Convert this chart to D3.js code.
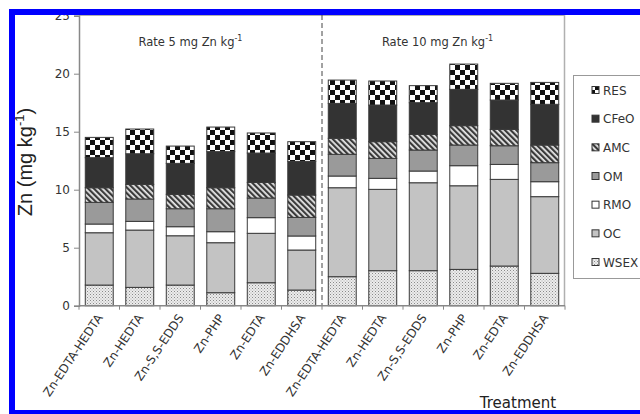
<!DOCTYPE html>
<html><head><meta charset="utf-8">
<script src="https://cdn.jsdelivr.net/npm/d3@7"></script>
<style>
html,body{margin:0;padding:0;background:#fff;}
svg{display:block;}
</style></head>
<body>
<svg id="chart" width="640" height="414"></svg>
<script>
// ---- data ----
const treatments = ["Zn-EDTA-HEDTA","Zn-HEDTA","Zn-S,S-EDDS","Zn-PHP","Zn-EDTA","Zn-EDDHSA",
                    "Zn-EDTA-HEDTA","Zn-HEDTA","Zn-S,S-EDDS","Zn-PHP","Zn-EDTA","Zn-EDDHSA"];
const rateLabels = ["Rate 5 mg Zn kg", "Rate 10 mg Zn kg"];
const fractions = ["WSEX","OC","RMO","OM","AMC","CFeO","RES"];
const WSEX = [1.78,1.58,1.78,1.12,1.98,1.35, 2.50,3.02,3.02,3.13,3.42,2.79];
const OC   = [4.51,4.94,4.25,4.31,4.26,3.45, 7.67,7.01,7.58,7.21,7.47,6.61];
const RMO  = [0.75,0.75,0.78,0.95,1.35,1.21, 1.01,0.95,1.01,1.73,1.29,1.29];
const OM   = [1.87,1.93,1.55,1.98,1.69,1.60, 1.87,1.72,1.81,1.78,1.61,1.64];
const AMC  = [1.26,1.26,1.24,1.81,1.35,1.93, 1.38,1.44,1.35,1.67,1.41,1.52];
const CFeO = [2.59,2.64,2.67,3.11,2.53,2.90, 3.01,3.16,2.73,3.13,2.53,3.51];
const RES  = [1.75,2.13,1.49,2.12,1.73,1.70, 2.01,2.07,1.47,2.18,1.44,1.89];
const yTicks = [0,5,10,15,20,25];

const seriesVals = {WSEX, OC, RMO, OM, AMC, CFeO, RES};
const rows = treatments.map((t,i) => {
  const r = {idx: i, name: t};
  fractions.forEach(f => r[f] = seriesVals[f][i]);
  return r;
});

const svg = d3.select("#chart");
const defs = svg.append("defs");

// patterns
const pW = defs.append("pattern").attr("id","p-wsex").attr("patternUnits","userSpaceOnUse").attr("width",3).attr("height",3);
pW.append("rect").attr("width",3).attr("height",3).attr("fill","#ececec");
pW.append("rect").attr("x",0).attr("y",0).attr("width",1).attr("height",1).attr("fill","#8a8a8a");
pW.append("rect").attr("x",1.5).attr("y",1.5).attr("width",1).attr("height",1).attr("fill","#a8a8a8");

const pA = defs.append("pattern").attr("id","p-amc").attr("patternUnits","userSpaceOnUse")
  .attr("width",4).attr("height",4).attr("patternTransform","rotate(-45)");
pA.append("rect").attr("width",4).attr("height",4).attr("fill","#e8e8e8");
pA.append("rect").attr("x",0).attr("y",0).attr("width",2.2).attr("height",4).attr("fill","#3a3a3a");

const pR = defs.append("pattern").attr("id","p-res").attr("patternUnits","userSpaceOnUse").attr("width",10).attr("height",10);
pR.append("rect").attr("width",10).attr("height",10).attr("fill","#ffffff");
pR.append("rect").attr("x",0).attr("y",0).attr("width",5).attr("height",5).attr("fill","#111");
pR.append("rect").attr("x",5).attr("y",5).attr("width",5).attr("height",5).attr("fill","#111");

const fills = {WSEX:"url(#p-wsex)", OC:"#c3c3c3", RMO:"#ffffff", OM:"#9a9a9a",
               AMC:"url(#p-amc)", CFeO:"#333333", RES:"url(#p-res)"};

// scales
const x = d3.scaleBand().domain(rows.map(r=>r.idx)).range([79,565]).paddingInner(0.31).paddingOuter(0.155);
const y = d3.scaleLinear().domain([0,25]).range([305.7,15.7]);

// plot frame (right and top)
svg.append("line").attr("x1",564.5).attr("x2",564.5).attr("y1",15).attr("y2",306).attr("stroke","#b0b0b0").attr("stroke-width",1.5);
svg.append("line").attr("x1",79).attr("x2",565).attr("y1",15.5).attr("y2",15.5).attr("stroke","#b0b0b0");

// dashed separator
const sepX = x(6) - x.step()*x.paddingInner()/2;
svg.append("line").attr("x1",sepX).attr("x2",sepX).attr("y1",15).attr("y2",306)
  .attr("stroke","#444").attr("stroke-width",1).attr("stroke-dasharray","5,3");

// stacked bars
const stack = d3.stack().keys(fractions);
const stacked = stack(rows);
svg.append("g").selectAll("g").data(stacked).join("g")
  .attr("fill", d => fills[d.key])
  .selectAll("rect").data(d => d).join("rect")
  .attr("x", d => x(d.data.idx))
  .attr("width", x.bandwidth())
  .attr("y", d => y(d[1]))
  .attr("height", d => y(d[0]) - y(d[1]))
  .attr("stroke","#3a3a3a").attr("stroke-width",1);

// y axis
const yAxis = svg.append("g").attr("transform","translate(79,0)")
  .call(d3.axisLeft(y).tickValues(yTicks).tickSize(5).tickPadding(4).tickFormat(d3.format("d")));
yAxis.select(".domain").attr("stroke","#888").attr("stroke-width",1.5);
yAxis.selectAll(".tick line").attr("stroke","#888");
yAxis.selectAll("text").attr("font-family","DejaVu Sans").attr("font-size",12).attr("fill","#333");

// x axis
const xAxisG = svg.append("g").attr("transform","translate(0,305.7)");
xAxisG.append("line").attr("x1",79).attr("x2",565).attr("y1",0).attr("y2",0).attr("stroke","#888").attr("stroke-width",1.5);
xAxisG.selectAll("line.tk").data(d3.range(13)).join("line").attr("class","tk")
  .attr("x1", i => 79 + i*x.step()).attr("x2", i => 79 + i*x.step())
  .attr("y1",0).attr("y2",4).attr("stroke","#888");
xAxisG.selectAll("text").data(rows).join("text")
  .attr("transform", d => `translate(${x(d.idx)+x.bandwidth()/2+4},12) rotate(-56)`)
  .attr("text-anchor","end")
  .attr("font-family","DejaVu Sans").attr("font-size",12).attr("fill","#333")
  .text(d => d.name);

// rate labels
const rateX = [ (x(0)+x(5)+x.bandwidth())/2 - 10, (x(6)+x(11)+x.bandwidth())/2 - 6 ];
rateLabels.forEach((lab,i) => {
  const t = svg.append("text").attr("x", rateX[i]).attr("y",46).attr("text-anchor","middle")
    .attr("font-family","DejaVu Sans").attr("font-size",11.5).attr("fill","#333");
  t.append("tspan").text(lab);
  t.append("tspan").attr("font-size",8).attr("dy",-5).text("-1");
});

// y title
const yt = svg.append("text").attr("transform","translate(32,162) rotate(-90)").attr("text-anchor","middle")
  .attr("font-family","Liberation Sans").attr("font-size",20).attr("fill","#222");
yt.append("tspan").text("Zn (mg kg");
yt.append("tspan").attr("font-size",13).attr("dy",-8).text("-1");
yt.append("tspan").attr("dy",8).text(")");

// x title
svg.append("text").attr("x",518).attr("y",408).attr("text-anchor","middle")
  .attr("font-family","DejaVu Sans").attr("font-size",15).attr("fill","#222").text("Treatment");

// legend
const lg = svg.append("g");
lg.append("rect").attr("x",573.5).attr("y",75.5).attr("width",80).attr("height",203).attr("fill","#fff").attr("stroke","#999");
const legOrder = fractions.slice().reverse();
const ly = d3.scalePoint().domain(legOrder).range([90,262]);
legOrder.forEach(k => {
  lg.append("rect").attr("x",592).attr("y",ly(k)-3.5).attr("width",7).attr("height",7)
    .attr("fill",fills[k]).attr("stroke","#333").attr("stroke-width",1);
  lg.append("text").attr("x",603).attr("y",ly(k)+4.5).attr("font-family","DejaVu Sans")
    .attr("font-size",12).attr("fill","#333").text(k);
});

// blue frame
svg.append("rect").attr("x",9).attr("y",9).attr("width",640).attr("height",6).attr("fill","#0000ff");
svg.append("rect").attr("x",9).attr("y",9).attr("width",6).attr("height",405).attr("fill","#0000ff");
svg.append("rect").attr("x",9).attr("y",410).attr("width",640).attr("height",4).attr("fill","#0000ff");
</script>
</body></html>
